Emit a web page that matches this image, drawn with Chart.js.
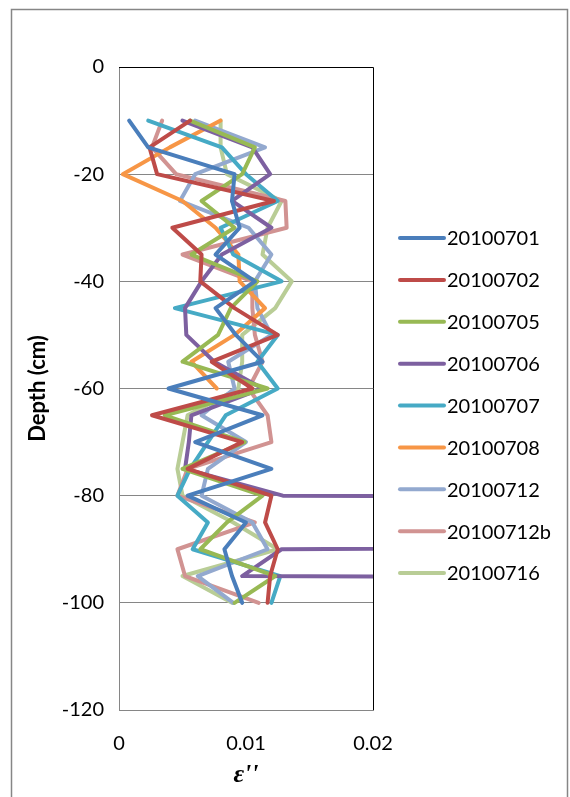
<!DOCTYPE html>
<html><head><meta charset="utf-8">
<script src="https://cdn.jsdelivr.net/npm/chart.js@4/dist/chart.umd.min.js"></script>
<style>html,body{margin:0;padding:0;background:#fff;}canvas{display:block}</style>
</head><body>
<canvas id="c" width="570" height="797"></canvas>
<script>
const depths = [-10,-15,-20,-25,-30,-35,-40,-45,-50,-55,-60,-65,-70,-75,-80,-85,-90,-95,-100];
const seriesNames = ['20100701','20100702','20100705','20100706','20100707','20100708','20100712','20100712b','20100716'];
const s20100701  = [0.0008,0.0023,0.0091,0.0089,0.0095,0.0076,0.0107,0.0076,0.0092,0.0113,0.0039,0.0113,0.0060,0.0120,0.0054,0.0100,0.0083,0.0089,0.0097];
const s20100702  = [0.0056,0.0024,0.0030,0.0122,0.0042,0.0065,0.0064,0.0091,0.0125,0.0073,0.0105,0.0026,0.0097,0.0054,0.0120,0.0115,0.0125,0.0119,0.0117];
const s20100705  = [0.0056,0.0107,0.0097,0.0065,0.0091,0.0057,0.0109,0.0088,0.0078,0.0050,0.0117,0.0036,0.0099,0.0050,0.0113,0.0085,0.0064,0.0123,0.0091];
const s20100706  = [0.0050,0.0105,0.0119,0.0089,0.0120,0.0081,0.0065,0.0052,0.0053,0.0075,0.0113,0.0057,0.0055,0.0052,0.0129,0.5,0.0128,0.0097,0.5];
const s20100707  = [0.0023,0.0081,0.0100,0.0125,0.0080,0.0090,0.0128,0.0044,0.0125,0.0109,0.0125,0.0084,0.0070,0.0056,0.0046,0.0070,0.0058,0.0127,0.0120];
const s20100708  = [0.0080,0.0040,0.0003,0.0050,0.0076,0.0094,0.0095,0.0115,0.0091,0.0057,0.0077,null,null,null,null,null,null,null,null];
const s20100712  = [0.0060,0.0115,0.0060,0.0048,0.0102,0.0120,0.0107,0.0109,0.0120,0.0086,0.0091,0.0065,0.0100,0.0070,0.0065,0.0105,0.0117,0.0062,0.0090];
const s20100712b = [0.0034,0.0026,0.0045,0.0131,0.0132,0.0050,0.0105,0.0105,0.0107,0.0113,0.0102,0.0117,0.0120,0.0054,0.0046,0.0107,0.0046,0.0052,0.0110];
const s20100716  = [0.0080,0.0080,0.0085,0.0128,0.0117,0.0113,0.0136,0.0123,0.0097,0.0097,0.0094,0.0054,0.0050,0.0046,0.0050,0.0090,0.0125,0.0050,0.0089];
const xTickLabels = ['0','0.01','0.02'];
const yTickLabels = ['-120','-100','-80','-60','-40','-20','0'];

const allSeries = [s20100701,s20100702,s20100705,s20100706,s20100707,s20100708,s20100712,s20100712b,s20100716];
const colors = ['#4A7EBB','#BE4B48','#98B954','#7D60A0','#46AAC5','#F79646','#93A9CF','#D19392','#B9CD96'];

const datasets = allSeries.map((vals, k) => ({
  label: seriesNames[k],
  data: depths.map((d, i) => ({x: vals[i], y: d})).filter(p => p.x !== null),
  borderColor: colors[k],
  backgroundColor: colors[k],
  borderWidth: 4,
  pointRadius: 0,
  pointHoverRadius: 0,
  tension: 0,
  fill: false,
  borderCapStyle: 'round',
  borderJoinStyle: 'round',
  clip: 0
}));

const framePlugin = {
  id: 'frame',
  beforeDraw(chart) {
    const ctx = chart.ctx;
    ctx.save();
    ctx.fillStyle = '#fff';
    ctx.fillRect(0, 0, chart.width, chart.height);
    ctx.strokeStyle = '#868686';
    ctx.lineWidth = 1.5;
    ctx.strokeRect(11.5, 9.5, 556, 790);
    ctx.restore();
  },
  afterDraw(chart) {
    const ctx = chart.ctx;
    const a = chart.chartArea;
    ctx.save();
    ctx.strokeStyle = '#000';
    ctx.lineWidth = 1;
    ctx.beginPath();
    ctx.moveTo(a.left, a.top + 0.5);
    ctx.lineTo(a.right + 0.5, a.top + 0.5);
    ctx.lineTo(a.right + 0.5, a.bottom);
    ctx.stroke();
    // legend
    const x0 = 400, x1 = 444, tx = 447, y0 = 238, dy = 41.875;
    ctx.font = '20px Lato';
    ctx.textBaseline = 'middle';
    ctx.textAlign = 'left';
    seriesNames.forEach((name, i) => {
      const y = y0 + i * dy;
      ctx.strokeStyle = colors[i];
      ctx.lineWidth = 4;
      ctx.lineCap = 'round';
      ctx.beginPath();
      ctx.moveTo(x0, y);
      ctx.lineTo(x1, y);
      ctx.stroke();
      ctx.fillStyle = '#000';
      ctx.fillText(name, tx, y + 1);
    });
    ctx.restore();
  }
};

new Chart(document.getElementById('c'), {
  type: 'line',
  data: { datasets },
  options: {
    responsive: false,
    animation: false,
    devicePixelRatio: 1,
    layout: { padding: { top: 67, right: 197, left: 0, bottom: 0 } },
    plugins: { legend: { display: false }, tooltip: { enabled: false } },
    scales: {
      x: {
        type: 'linear', min: 0, max: 0.02,
        ticks: { stepSize: 0.01, padding: 22, color: '#000', font: { family: 'Lato', size: 20 },
          callback: (v, i) => xTickLabels[i] },
        grid: { display: false, drawTicks: false },
        border: { display: true, color: '#868686', width: 1 },
        title: { display: true, text: "ε''", color: '#000',
          font: { family: 'Liberation Serif', size: 26, weight: 'bold', style: 'italic', lineHeight: 1 },
          padding: { top: 0, bottom: 9 } },
        afterFit(s) { s.height = 87; }
      },
      y: {
        type: 'linear', min: -120, max: 0,
        ticks: { stepSize: 20, padding: 15, color: '#000', font: { family: 'Lato', size: 20 },
          callback: (v, i) => yTickLabels[i] },
        grid: { color: '#868686', lineWidth: 1, drawTicks: false },
        border: { display: true, color: '#868686', width: 1 },
        title: { display: true, text: 'Depth (cm)', color: '#000',
          font: { family: 'Lato', size: 22, weight: 'bold', lineHeight: 1 },
          padding: { top: 27, bottom: 0 } },
        afterFit(s) { s.width = 119; }
      }
    }
  },
  plugins: [framePlugin]
});
</script>
</body></html>
